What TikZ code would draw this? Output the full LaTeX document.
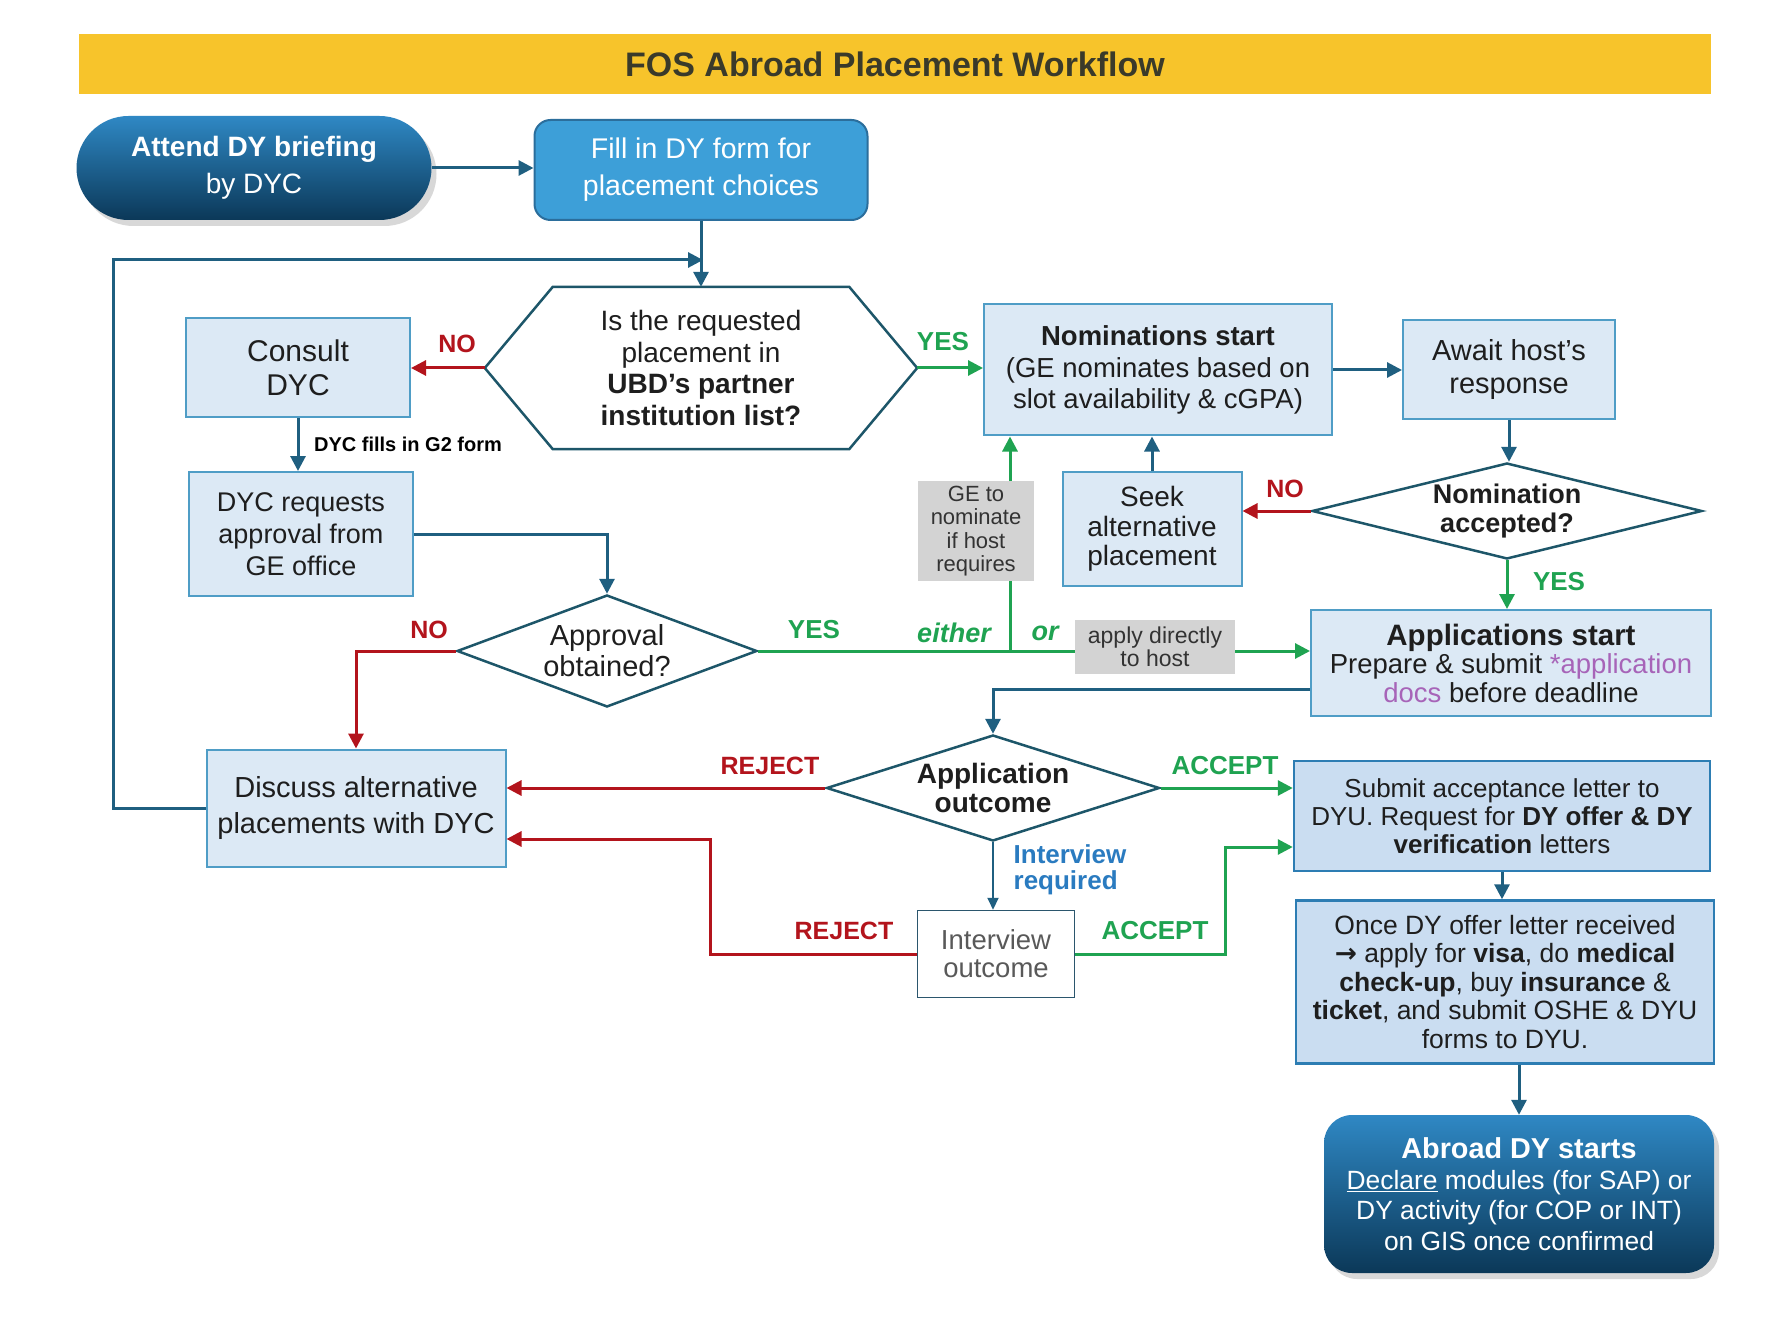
\documentclass[tikz,border=0pt]{standalone}
\usepackage{fontspec}
\setmainfont{Liberation Sans}
\newfontfamily\dejavu{DejaVu Sans}
\usetikzlibrary{arrows.meta,shapes.geometric,shadows,calc}
\newcommand{\fsz}[2]{\fontsize{#1}{#2}\selectfont}
\definecolor{titlebar}{HTML}{F7C42B}
\definecolor{titletext}{HTML}{3A3A2A}
\definecolor{dline}{HTML}{1F5F80}
\definecolor{hexc}{HTML}{1D5669}
\definecolor{redc}{HTML}{B3141C}
\definecolor{greenc}{HTML}{1FA351}
\definecolor{boxfill}{HTML}{DCE9F5}
\definecolor{boxdraw}{HTML}{4F9DC6}
\definecolor{boxfillb}{HTML}{CADDF1}
\definecolor{boxdrawb}{HTML}{2D7DB3}
\definecolor{fillbox}{HTML}{3D9FD8}
\definecolor{fillboxdraw}{HTML}{2B6E9C}
\definecolor{startTop}{HTML}{2F88C4}
\definecolor{startBot}{HTML}{0B3858}
\definecolor{grayb}{HTML}{D3D3D3}
\definecolor{purp}{HTML}{A764B8}
\definecolor{bluelbl}{HTML}{2A7BC0}
\definecolor{txt}{HTML}{1E1E1E}
\tikzset{
 base/.style={align=center, inner sep=0pt, text=txt},
 box/.style={base, draw=boxdraw, fill=boxfill, line width=2pt},
 boxb/.style={base, draw=boxdrawb, fill=boxfillb, line width=2.5pt},
 dia/.style={diamond, draw=hexc, fill=white, line width=2.5pt, inner sep=0pt},
 darr/.style={draw=dline, line width=3pt, -{Triangle[length=15pt,width=15pt]}},
 rarr/.style={draw=redc, line width=3pt, -{Triangle[length=15pt,width=15pt]}},
 garr/.style={draw=greenc, line width=3pt, -{Triangle[length=15pt,width=15pt]}},
 redlbl/.style={text=redc, font=\fsz{25}{28}\bfseries},
 greenlbl/.style={text=greenc, font=\fsz{26}{28}\bfseries},
 graybox/.style={base, fill=grayb, text=black!80},
 softshadow/.style={drop shadow={shadow xshift=5pt, shadow yshift=-6pt, opacity=0.3}},
}
\begin{document}
\begin{tikzpicture}[x=1pt,y=-1pt]
\useasboundingbox (0,0) rectangle (1770,1329);
\fill[white] (0,0) rectangle (1770,1329);

% title
\node (title) [fill=titlebar, minimum width=1632pt, minimum height=60pt, inner sep=0pt,
  text=titletext, font=\fsz{34}{36}\bfseries] at (895,64) {FOS Abroad Placement Workflow};

% nodes
\node (start) [base, minimum width=355pt, minimum height=104pt, rounded corners=52pt,
  top color=startTop, bottom color=startBot, softshadow, text=white, font=\fsz{28}{37}]
  at (254,168) {\textbf{Attend DY briefing}\\by DYC};
\node (fill) [base, minimum width=333pt, minimum height=100pt, rounded corners=16pt,
  fill=fillbox, draw=fillboxdraw, line width=2pt, text=white, font=\fsz{28.5}{37}]
  at (701,170) {Fill in DY form for\\placement choices};

\node (hex) [minimum width=432pt, minimum height=162pt, inner sep=0pt] at (701,368) {};
\draw[hexc, fill=white, line width=2.5pt] (hex.west) -- ([xshift=68pt]hex.north west)
  -- ([xshift=-68pt]hex.north east) -- (hex.east) -- ([xshift=-68pt]hex.south east)
  -- ([xshift=68pt]hex.south west) -- cycle;
\node (hextext) [base, font=\fsz{28}{31.5}] at (hex)
  {Is the requested\\placement in\\\textbf{UBD’s partner}\\\textbf{institution list?}};

\node (consult) [box, minimum width=224pt, minimum height=99pt, font=\fsz{30}{34}]
  at (298,368) {Consult\\DYC};
\node (requests) [box, minimum width=224pt, minimum height=124pt, font=\fsz{27}{32}]
  at (301,534) {DYC requests\\approval from\\GE office};

\node (approval) [dia, minimum width=300pt, minimum height=112pt] at (607,651) {};
\node (approvaltext) [base, font=\fsz{29}{31}] at (approval) {Approval\\obtained?};

\node (nom) [box, minimum width=348pt, minimum height=131pt, font=\fsz{27.5}{31.5}]
  at (1158,370) {\textbf{Nominations start}\\(GE nominates based on\\slot availability \& cGPA)};
\node (await) [box, minimum width=212pt, minimum height=99pt, font=\fsz{29}{33}]
  at (1509,370) {Await host’s\\response};

\node (nomacc) [dia, minimum width=390pt, minimum height=96pt] at (1507,511) {};
\node (nomacctext) [base, font=\fsz{27}{28.5}\bfseries] at (nomacc) {Nomination\\accepted?};

\node (seek) [box, minimum width=179pt, minimum height=114pt, font=\fsz{28}{29.5}]
  at (1152,529) {Seek\\alternative\\placement};

\node (app) [box, minimum width=400pt, minimum height=106pt, font=\fsz{27.5}{28.5}]
  at (1511,663) {{\fsz{29.5}{30}\bfseries Applications start}\\Prepare \& submit {\color{purp}*application}\\{\color{purp}docs} before deadline};

\node (appout) [dia, minimum width=333pt, minimum height=106pt] at (993,788) {};
\node (appouttext) [base, font=\fsz{28}{28.5}\bfseries] at (appout) {Application\\outcome};

\node (discuss) [box, minimum width=299pt, minimum height=117pt, font=\fsz{29}{36}]
  at (356,808) {Discuss alternative\\placements with DYC};

\node (interview) [base, draw=black!45!boxdraw, fill=white, line width=1.5pt,
  minimum width=157pt, minimum height=87pt, text=black!65, font=\fsz{27.5}{28}]
  at (996,954) {Interview\\outcome};

\node (submit) [boxb, minimum width=416pt, minimum height=110pt, font=\fsz{26}{28}]
  at (1502,816) {Submit acceptance letter to\\DYU. Request for \textbf{DY offer \& DY}\\\textbf{verification} letters};

\node (once) [boxb, minimum width=418pt, minimum height=163pt, font=\fsz{26.5}{28.5}]
  at (1505,982) {Once DY offer letter received\\{\dejavu\bfseries →} apply for \textbf{visa}, do \textbf{medical}\\\textbf{check-up}, buy \textbf{insurance} \&\\\textbf{ticket}, and submit OSHE \& DYU\\forms to DYU.};

\node (abroad) [base, minimum width=390pt, minimum height=158pt, rounded corners=28pt,
  top color=startTop, bottom color=startBot, softshadow, text=white, font=\fsz{26.4}{30.5}]
  at (1519,1194) {{\fsz{28.8}{30.5}\bfseries Abroad DY starts}\\\underline{Declare} modules (for SAP) or\\DY activity (for COP or INT)\\on GIS once confirmed};

% helper coordinates
\coordinate (loopcorner) at (113,260);
\coordinate (loopend) at (703,260);
\coordinate (junc) at (1010,651);
\coordinate (rcorner) at (710,839);
\coordinate (gcorner) at (1225,847);

% connectors
\draw[darr] (start.east) -- (start.east -| fill.west);
\draw[darr] (fill.south) -- (hex.north);
\draw[darr] (discuss.west) -| (loopcorner) -- (loopend);
\draw[rarr] (hex.west) -- (hex.west -| consult.east);
\draw[garr] (hex.east) -- (hex.east -| nom.west);
\draw[darr] (consult.south) -- (consult.south |- requests.north);
\draw[darr] (requests.east) -| (approval.north);
\draw[rarr] (approval.west) -| (discuss.north);
\draw[garr] (approval.east) -- (approval.east -| app.west);
\draw[garr] (junc) -- (junc |- nom.south);
\draw[darr] (nom.east) -- (nom.east -| await.west);
\draw[darr] (await.south) -- (await.south |- nomacc.north);
\draw[rarr] (nomacc.west) -- (nomacc.west -| seek.east);
\draw[darr] (seek.north) -- (seek.north |- nom.south);
\draw[garr] (nomacc.south) -- (nomacc.south |- app.north);
\draw[darr] ([yshift=-26pt]app.west) -| (appout.north);
\draw[rarr] (appout.west) -- (appout.west -| discuss.east);
\draw[garr] (appout.east) -- (appout.east -| submit.west);
\draw[draw=dline, line width=2pt, -{Triangle[length=12pt,width=11pt]}] (appout.south) -- (appout.south |- interview.north);
\draw[rarr] (interview.west) -| (rcorner) -- (rcorner -| discuss.east);
\draw[garr] (interview.east) -| (gcorner) -- (gcorner -| submit.west);
\draw[darr] (submit.south) -- (submit.south |- once.north);
\draw[darr] (once.south -| abroad.north) -- (abroad.north);

% grey notes on top of lines
\node (gray1) [graybox, minimum width=116pt, minimum height=100pt, font=\fsz{22}{23.5}]
  at (976,531) {GE to\\nominate\\if host\\requires};
\node (gray2) [graybox, minimum width=160pt, minimum height=54pt, font=\fsz{23}{23}]
  at (1155,647) {apply directly\\to host};

% labels
\node[redlbl] (no1) at (457,344) {NO};
\node[greenlbl] (yes1) at (943,342) {YES};
\node[text=black, font=\fsz{20}{22}\bfseries] (g2) at (408,444) {DYC fills in G2 form};
\node[redlbl] (no2) at (429,630) {NO};
\node[greenlbl] (yes2) at (814,630) {YES};
\node[text=greenc, font=\fsz{27}{28}\bfseries\itshape] (either) at (954,633) {either};
\node[text=greenc, font=\fsz{27}{28}\bfseries\itshape] (or) at (1045,633) {or};
\node[redlbl] (no3) at (1285,489) {NO};
\node[greenlbl] (yes3) at (1559,582) {YES};
\node[redlbl] (rej1) at (770,766) {REJECT};
\node[greenlbl] (acc1) at (1225,766) {ACCEPT};
\node[text=bluelbl, font=\fsz{26}{26}\bfseries, align=left] (intreq) at (1070,870) {Interview\\required};
\node[redlbl] (rej2) at (844,931) {REJECT};
\node[greenlbl] (acc2) at (1155,931) {ACCEPT};
\end{tikzpicture}
\end{document}
